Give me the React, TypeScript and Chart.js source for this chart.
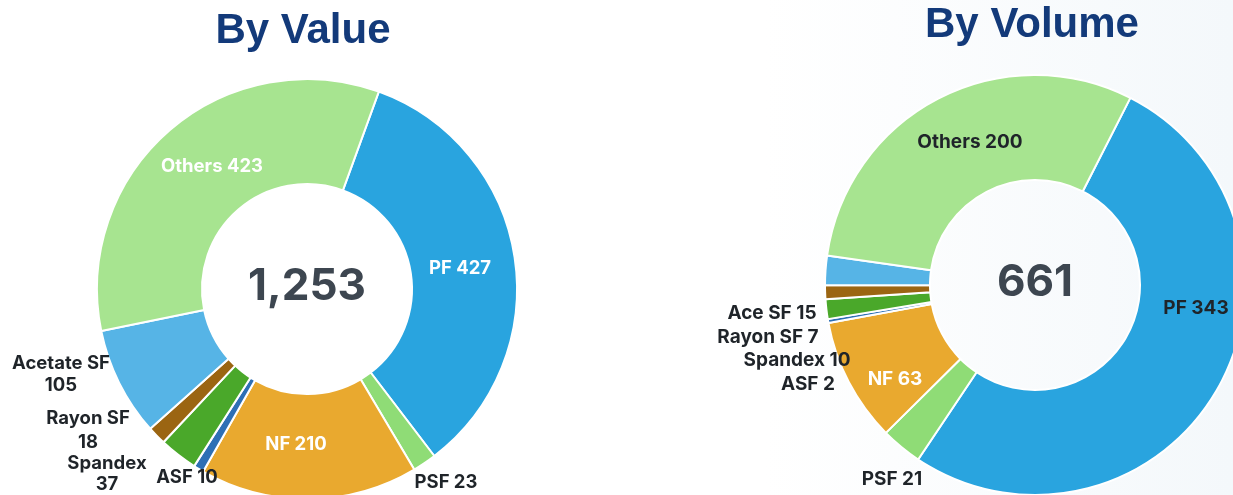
import React, { useEffect, useRef } from "react";
import { Chart, registerables } from "chart.js";

Chart.register(...registerables);

// ---------- DATA ----------
const valueCategories = ["PF", "PSF", "NF", "ASF", "Spandex", "Rayon SF", "Acetate SF", "Others"];
const valueData = [427, 23, 210, 10, 37, 18, 105, 423];
const valueTotal = "1,253";

const volumeCategories = ["PF", "PSF", "NF", "ASF", "Spandex", "Rayon SF", "Ace SF", "Others"];
const volumeData = [343, 21, 63, 2, 10, 7, 15, 200];
const volumeTotal = "661";

const titles = ["By Value", "By Volume"];

// ---------- STYLE ----------
const sliceColors = [
  "#29a4df", // PF
  "#8fdc76", // PSF
  "#e9a92f", // NF
  "#2d6fb5", // ASF
  "#4aa82a", // Spandex
  "#9b6512", // Rayon SF
  "#56b4e6", // Acetate SF
  "#a7e490", // Others
];
const WHITE = "#ffffff";
const DARK = "#1f2429";
const NAVY = "#133a7a";
const CENTER_COLOR = "#3d4650";
const FONT = "Inter, 'Noto Sans', sans-serif";

type LabelLayout = { dx: number; dy: number; color: string; split?: boolean; lh?: number };

// label placement relative to doughnut centre, one per category
const valueLabelLayout: LabelLayout[] = [
  { dx: 153, dy: -21, color: WHITE },
  { dx: 139, dy: 193, color: DARK },
  { dx: -11, dy: 155, color: WHITE },
  { dx: -120, dy: 188, color: DARK },
  { dx: -200, dy: 174, color: DARK, split: true, lh: 21 },
  { dx: -219, dy: 129, color: DARK, split: true, lh: 24 },
  { dx: -246, dy: 74, color: DARK, split: true, lh: 22 },
  { dx: -95, dy: -123, color: WHITE },
];

const volumeLabelLayout: LabelLayout[] = [
  { dx: 161, dy: 23, color: DARK },
  { dx: -143, dy: 194, color: DARK },
  { dx: -140, dy: 94, color: WHITE },
  { dx: -227, dy: 99, color: DARK },
  { dx: -238, dy: 75, color: DARK },
  { dx: -267, dy: 52, color: DARK },
  { dx: -263, dy: 28, color: DARK },
  { dx: -65, dy: -143, color: DARK },
];

const labelPlugin = {
  id: "customLabels",
  afterDraw(chart: any, _args: any, opts: any) {
    const ctx = chart.ctx;
    const meta = chart.getDatasetMeta(0);
    if (!meta.data.length) return;
    const cx = meta.data[0].x;
    const cy = meta.data[0].y;
    const labels: string[] = chart.data.labels;
    const values: number[] = chart.data.datasets[0].data;
    ctx.save();
    ctx.textAlign = "center";
    ctx.textBaseline = "middle";
    // slice labels
    ctx.font = `bold ${opts.labelSize}px ${FONT}`;
    labels.forEach((lab, i) => {
      const l: LabelLayout = opts.layout[i];
      ctx.fillStyle = l.color;
      if (l.split) {
        ctx.fillText(lab, cx + l.dx, cy + l.dy);
        ctx.fillText(String(values[i]), cx + l.dx, cy + l.dy + (l.lh || 22));
      } else {
        ctx.fillText(`${lab} ${values[i]}`, cx + l.dx, cy + l.dy);
      }
    });
    // centre total
    ctx.font = `bold 44px ${FONT}`;
    ctx.fillStyle = CENTER_COLOR;
    ctx.fillText(opts.total, cx + opts.totalDx, cy + opts.totalDy);
    // title
    ctx.font = `bold 42px 'Liberation Sans', Arial, sans-serif`;
    ctx.fillStyle = NAVY;
    ctx.textBaseline = "alphabetic";
    ctx.fillText(opts.title, opts.titleX, opts.titleY);
    ctx.restore();
  },
};

type DonutProps = {
  labels: string[];
  values: number[];
  layout: LabelLayout[];
  total: string;
  title: string;
  titleX: number;
  titleY: number;
  rotation: number;
  left: number;
  width: number;
  height: number;
  padding: { left: number; right: number; top: number; bottom: number };
  labelSize: number;
};

function Donut(p: DonutProps) {
  const ref = useRef<HTMLCanvasElement | null>(null);
  useEffect(() => {
    if (!ref.current) return;
    const chart = new Chart(ref.current, {
      type: "doughnut",
      data: {
        labels: p.labels,
        datasets: [
          {
            data: p.values,
            backgroundColor: sliceColors,
            borderColor: "#ffffff",
            borderWidth: 2,
            hoverOffset: 0,
          },
        ],
      },
      options: {
        responsive: false,
        animation: false,
        rotation: p.rotation,
        cutout: "50%",
        layout: { padding: p.padding },
        plugins: {
          legend: { display: false },
          tooltip: { enabled: false },
          customLabels: {
            layout: p.layout,
            total: p.total,
            totalDx: 0,
            totalDy: -2,
            title: p.title,
            titleX: p.titleX,
            titleY: p.titleY,
            labelSize: p.labelSize,
          },
        } as any,
      },
      plugins: [labelPlugin],
    });
    return () => chart.destroy();
  }, []);
  return (
    <canvas
      ref={ref}
      width={p.width}
      height={p.height}
      style={{ position: "absolute", left: p.left, top: 0, width: p.width, height: p.height }}
    />
  );
}

export default function App() {
  return (
    <div
      style={{
        position: "fixed",
        left: 0,
        top: 0,
        width: 1233,
        height: 495,
        overflow: "hidden",
        background: "linear-gradient(90deg, #ffffff 0%, #ffffff 62%, #f4f8fb 100%)",
      }}
    >
      <Donut
        labels={valueCategories}
        values={valueData}
        layout={valueLabelLayout}
        total={valueTotal}
        title={titles[0]}
        titleX={303}
        titleY={43}
        rotation={20}
        left={0}
        width={616}
        height={500}
        padding={{ left: 96, right: 98, top: 78, bottom: 0 }}
        labelSize={18.5}
      />
      <Donut
        labels={volumeCategories}
        values={volumeData}
        layout={volumeLabelLayout}
        total={volumeTotal}
        title={titles[1]}
        titleX={416}
        titleY={37}
        rotation={27}
        left={616}
        width={630}
        height={500}
        padding={{ left: 208, right: 0, top: 74, bottom: 4 }}
        labelSize={19}
      />
    </div>
  );
}
